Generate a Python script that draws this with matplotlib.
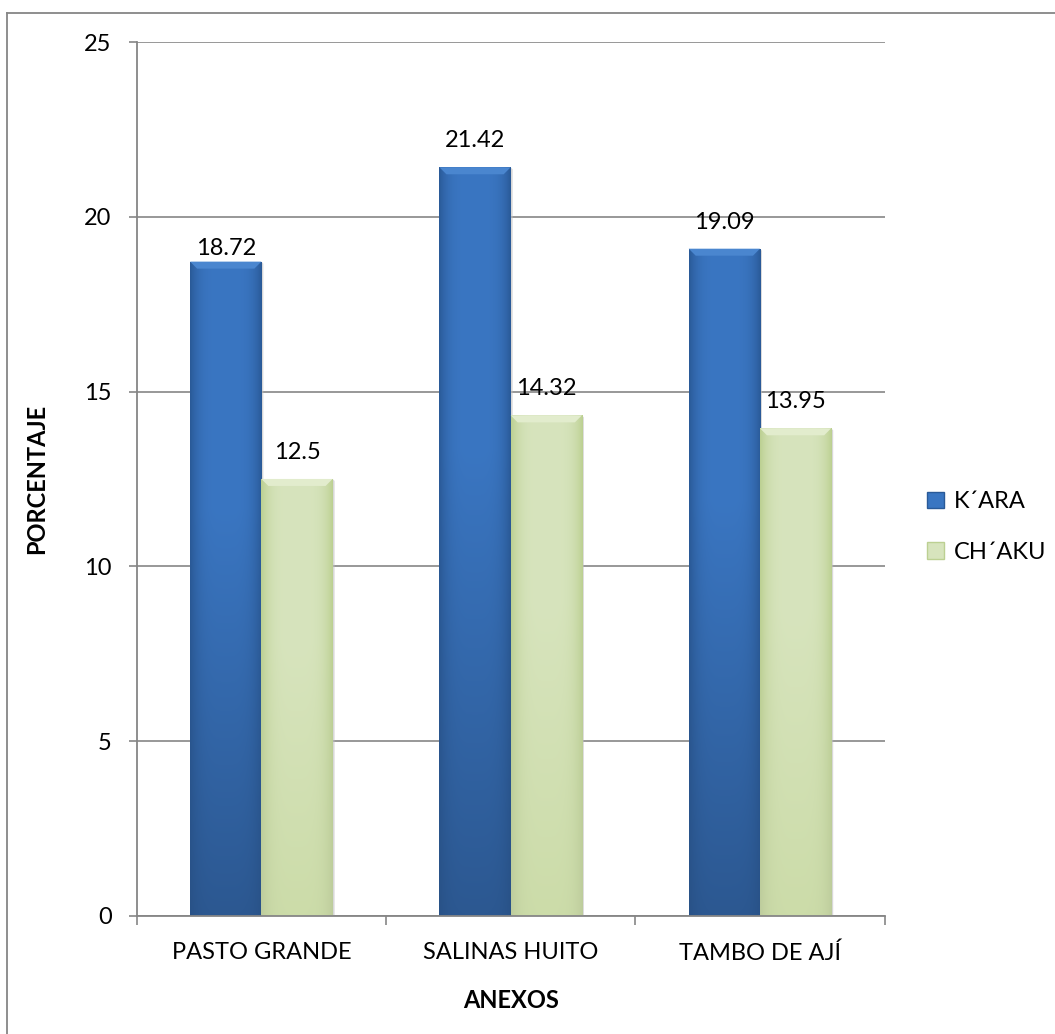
import numpy as np
import matplotlib
matplotlib.use("Agg")
import matplotlib.pyplot as plt
from matplotlib.patches import Polygon, Patch
from matplotlib.lines import Line2D
from matplotlib.colors import to_rgb

# ---- data ----
categories = ["PASTO GRANDE", "SALINAS HUITO", "TAMBO DE AJÍ"]
series_names = ["K\u00b4ARA", "CH\u00b4AKU"]
kara = [18.72, 21.42, 19.09]
chaku = [12.5, 14.32, 13.95]
kara_labels = ["18.72", "21.42", "19.09"]
chaku_labels = ["12.5", "14.32", "13.95"]
y_ticks = [0, 5, 10, 15, 20, 25]

# ---- style ----
W, H, DPI = 1055, 1034, 100
plt.rcParams['font.family'] = ['Lato', 'DejaVu Sans']
FS = 17
GRID = '#868686'
blue_light, blue_edge, blue_bottom = '#3A76C2', '#2A5A98', '#2C5891'
green_light, green_edge, green_bottom = '#D7E4BD', '#BCD092', '#CCDCA9'
blue_bevel, green_bevel = '#4A86CF', '#E2ECCD'
kara_pad = [3, 16, 16]
chaku_pad = [16, 16, 16]

fig = plt.figure(figsize=(W / DPI, H / DPI), dpi=DPI)
fig.patch.set_facecolor('white')

# chart-area border (top and left only visible)
fig.add_artist(Line2D([7 / W, 1.0], [1 - 13 / H, 1 - 13 / H], color=GRID, lw=1.3, transform=fig.transFigure))
fig.add_artist(Line2D([7 / W, 7 / W], [0, 1 - 13 / H], color=GRID, lw=1.3, transform=fig.transFigure))

ax_l, ax_b = 136.7 / W, 1 - 915.7 / H
ax_w, ax_h = (884.6 - 136.7) / W, (915.7 - 42.2) / H
ax = fig.add_axes([ax_l, ax_b, ax_w, ax_h])

x = np.arange(len(categories))
bw = 1 / 3.5
XLIM, YLIM = (-0.5, len(categories) - 0.5), (0, 25)
ax.set_xlim(*XLIM)
ax.set_ylim(*YLIM)

px_x = ax_w * W / (XLIM[1] - XLIM[0])
px_y = ax_h * H / (YLIM[1] - YLIM[0])

bars_k = ax.bar(x - bw / 2, kara, bw, color=blue_light, zorder=3, label=series_names[0])
bars_c = ax.bar(x + bw / 2, chaku, bw, color=green_light, zorder=3, label=series_names[1])


def shade(bar, light, edge, bottom, bevel):
    x0, y0 = bar.get_x(), bar.get_y()
    w, h = bar.get_width(), bar.get_height()
    L, E, B = (np.array(to_rgb(c)) for c in (light, edge, bottom))
    nx, ny = 80, 200
    t = np.linspace(0, 1, nx)
    hmix = 1 - np.abs(2 * t - 1) ** 4          # 1 centre, 0 edges
    v = np.linspace(0, 1, ny)[:, None]          # 0 bottom, 1 top
    top_col = E[None, :] + (L - E)[None, :] * hmix[:, None]
    bot_col = B[None, :] + (B * 0.93 - B)[None, :] * (1 - hmix[:, None])
    vmix = np.clip(v * 1.6, 0, 1)[:, :, None]
    img = bot_col[None, :, :] * (1 - vmix) + top_col[None, :, :] * vmix
    im = ax.imshow(img, extent=[x0, x0 + w, y0, y0 + h], origin='lower',
                   aspect='auto', zorder=3.5, interpolation='bilinear')
    im.set_clip_path(bar)
    # bevel at top
    dx, dy = 7 / px_x, 7 / px_y
    top = y0 + h
    bev = Polygon([[x0, top], [x0 + w, top], [x0 + w - dx, top - dy], [x0 + dx, top - dy]],
                  closed=True, facecolor=bevel, edgecolor='none', zorder=3.7)
    ax.add_patch(bev)
    # light shadow on right
    sh = Polygon([[x0 + w, y0], [x0 + w + 2 / px_x, y0], [x0 + w + 2 / px_x, top - 2 / px_y], [x0 + w, top]],
                 closed=True, facecolor='#BFBFBF', edgecolor='none', alpha=0.6, zorder=2.9)
    ax.add_patch(sh)


for b in bars_k:
    shade(b, blue_light, blue_edge, blue_bottom, blue_bevel)
for b in bars_c:
    shade(b, green_light, green_edge, green_bottom, green_bevel)

ax.set_xlim(*XLIM)
ax.set_ylim(*YLIM)

for b, lab, p in zip(bars_k, kara_labels, kara_pad):
    ax.annotate(lab, (b.get_x() + b.get_width() / 2, b.get_height()), xytext=(0, p),
                textcoords='offset pixels', ha='center', va='bottom', fontsize=FS, zorder=5)
for b, lab, p in zip(bars_c, chaku_labels, chaku_pad):
    ax.annotate(lab, (b.get_x() + b.get_width() / 2, b.get_height()), xytext=(0, p),
                textcoords='offset pixels', ha='center', va='bottom', fontsize=FS, zorder=5)

# grid / axes
ax.set_yticks(y_ticks)
ax.set_yticklabels([str(t) for t in y_ticks])
ax.yaxis.grid(True, color=GRID, lw=1.2, zorder=1)
ax.set_axisbelow(True)
for s in ['top', 'right']:
    ax.spines[s].set_visible(False)
for s in ['left', 'bottom']:
    ax.spines[s].set_color(GRID)
    ax.spines[s].set_linewidth(1.3)
ax.spines['bottom'].set_zorder(4)
ax.tick_params(axis='y', length=6, width=1.2, color=GRID, pad=12, labelsize=FS)
ax.set_xticks(x)
ax.set_xticklabels(categories)
ax.tick_params(axis='x', which='major', length=0, pad=19, labelsize=FS)
ax.set_xticks(np.arange(len(categories) + 1) - 0.5, minor=True)
ax.tick_params(axis='x', which='minor', length=6.5, width=1.2, color=GRID)

ax.set_ylabel("PORCENTAJE", fontsize=FS, fontweight='bold', labelpad=26)
ax.set_xlabel("ANEXOS", fontsize=FS, fontweight='bold', labelpad=18)

handles = [Patch(facecolor=blue_light, edgecolor=blue_edge, lw=1),
           Patch(facecolor=green_light, edgecolor=green_edge, lw=1)]
fig.legend(handles, series_names, loc='center left', bbox_to_anchor=(918 / W, 1 - 527 / H),
           frameon=False, fontsize=FS, handlelength=0.7, handleheight=0.7,
           handletextpad=0.4, labelspacing=1.25, borderaxespad=0)

fig.savefig("out.png", dpi=DPI, facecolor='white')
